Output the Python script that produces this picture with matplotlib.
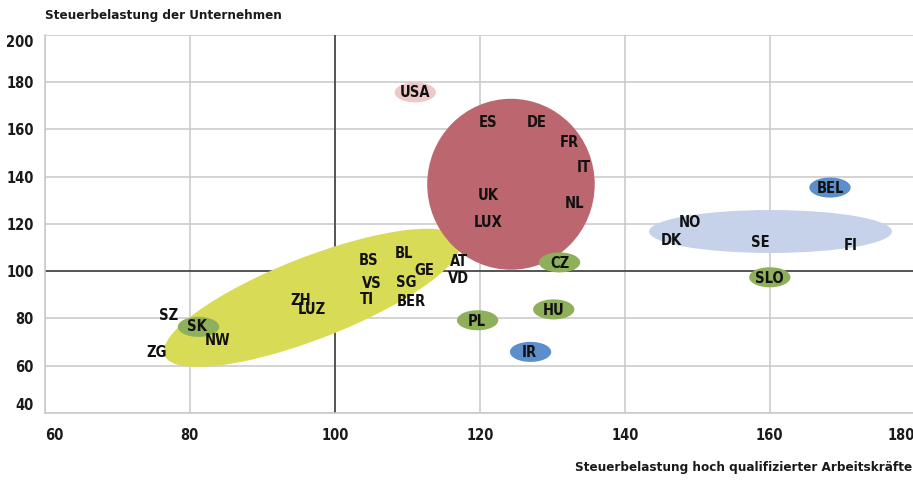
import matplotlib.pyplot as plt
from matplotlib.patches import Ellipse
import matplotlib.transforms as mtransforms

plt.rcParams['font.family'] = ['DejaVu Sans']
plt.rcParams['font.stretch'] = 'condensed'

# country labels (x = highly qualified workers, y = companies)
names = ["USA", "ES", "DE", "FR", "IT", "UK", "NL", "LUX", "BEL", "NO", "DK", "SE", "FI",
         "AT", "VD", "CZ", "SLO", "HU", "PL", "IR", "BS", "BL", "GE", "VS", "SG", "TI",
         "BER", "ZH", "LUZ", "SZ", "SK", "NW", "ZG"]
name_x = [111.1, 121.1, 127.9, 132.4, 134.4, 121.2, 133.1, 121.1, 168.3, 149.0, 146.4, 158.7, 171.2,
          117.2, 117.0, 131.0, 160.0, 130.2, 119.6, 126.9, 104.7, 109.5, 112.3, 105.1, 109.8, 104.4,
          110.5, 95.3, 96.9, 77.1, 81.0, 83.9, 75.5]
name_y = [175.7, 162.8, 162.8, 154.3, 143.7, 131.9, 128.5, 120.8, 134.8, 120.8, 112.8, 112.0, 110.7,
          103.9, 96.7, 103.1, 96.7, 83.2, 78.5, 65.4, 104.3, 107.3, 100.1, 94.6, 95.0, 87.8,
          87.0, 87.4, 83.6, 81.1, 76.4, 70.5, 65.4]

# single-country bubbles
bubble_x = [111.1, 168.3, 131.0, 160.0, 130.2, 119.7, 127.0, 81.2]
bubble_y = [175.7, 135.4, 103.7, 97.4, 83.8, 79.2, 65.8, 76.4]
bubble_col = ["#efc9c9", "#5b8ecb", "#8fb05a", "#8fb05a", "#8fb05a", "#8fb05a", "#5b8ecb", "#8fb05a"]

# group bubbles: centre and extent in data units
groups_x = [124.3, 160.1]
groups_y = [136.8, 116.8]
groups_w = [23.1, 33.5]
groups_h = [72.4, 18.2]
groups_col = ["#bc6770", "#c5d2ea"]

# Swiss cantons: tilted ellipse (size in pixels, angle on screen)
ch_x, ch_y = 96.9, 88.7

fig = plt.figure(figsize=(9.13, 4.8), dpi=100)
ax = fig.add_axes([0.049, 0.14, 0.953, 0.787])
ax.set_xlim(60, 180)
ax.set_ylim(40, 200)

ax.set_xticks(range(60, 181, 20))
ax.set_yticks(range(40, 201, 20))
ax.grid(True, color="#c8c8c8", linewidth=1.1, zorder=0)
ax.set_axisbelow(True)
ax.axvline(100, color="#404040", linewidth=1.2, zorder=1)
ax.axhline(100, color="#404040", linewidth=1.2, zorder=1)

for s in ["top", "right"]:
    ax.spines[s].set_visible(False)
for s in ["left", "bottom"]:
    ax.spines[s].set_color("#c8c8c8")
    ax.spines[s].set_linewidth(1.1)

ax.tick_params(length=0, labelsize=10.5)
ax.tick_params(axis="x", pad=11)
ax.tick_params(axis="y", pad=8)
xl = ax.get_xticklabels()
yl = ax.get_yticklabels()
for lab in xl + yl:
    lab.set_fontweight("bold")
    lab.set_color("#1a1a1a")
xl[0].set_ha("left")
xl[-1].set_ha("right")
yl[0].set_va("bottom")
yl[-1].set_va("top")

ch = Ellipse((0, 0), 317, 82, angle=21.3, facecolor="#d8db55", edgecolor="none", zorder=2,
             transform=mtransforms.ScaledTranslation(ch_x, ch_y, ax.transData))
ax.add_patch(ch)

for gx, gy, gw, gh, c in zip(groups_x, groups_y, groups_w, groups_h, groups_col):
    ax.add_patch(Ellipse((gx, gy), gw, gh, facecolor=c, edgecolor="none", zorder=2))

for bx, by, c in zip(bubble_x, bubble_y, bubble_col):
    ax.add_patch(Ellipse((bx, by), 5.7, 8.5, facecolor=c, edgecolor="none", zorder=3))

for n, x, y in zip(names, name_x, name_y):
    ax.text(x, y, n, ha="center", va="center", fontsize=10.5, fontweight="bold",
            color="#111111", zorder=4)

fig.text(0.049, 0.967, "Steuerbelastung der Unternehmen", ha="left", va="center",
         fontsize=9.6, fontweight="bold", color="#1a1a1a")
fig.text(0.999, 0.027, "Steuerbelastung hoch qualifizierter Arbeitskräfte", ha="right",
         va="center", fontsize=9.6, fontweight="bold", color="#1a1a1a")

fig.savefig("out.png", dpi=100)
